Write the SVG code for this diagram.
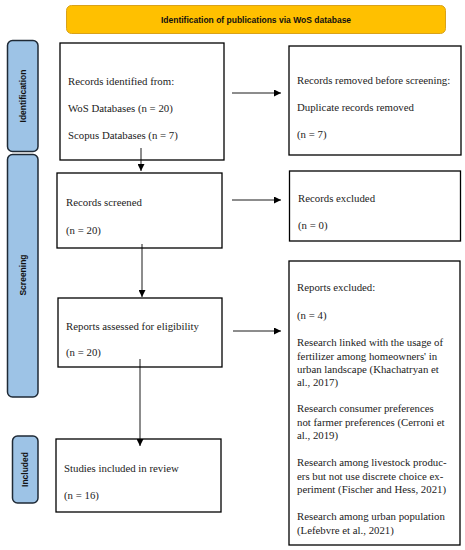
<svg xmlns="http://www.w3.org/2000/svg" width="465" height="550" viewBox="0 0 465 550">
<defs>
<marker id="ah" viewBox="0 0 8 8" refX="8" refY="4" markerWidth="7" markerHeight="7" markerUnits="userSpaceOnUse" orient="auto">
<path d="M0,0 L8,4 L0,8 Z" fill="#000"/>
</marker>
<style>
.box{fill:#fff;stroke:#000;stroke-width:1.3}
.side{fill:#9dc3e6;stroke:#1f2a36;stroke-width:1.5}
.t{font-family:"Liberation Serif","Times New Roman",serif;font-size:10.8px;fill:#222}
.s{font-family:"Liberation Sans",Arial,sans-serif;font-weight:bold;font-size:8.5px;fill:#111}
.c{stroke:#000;stroke-width:0.9;fill:none;marker-end:url(#ah)}
</style>
</defs>
<rect width="465" height="550" fill="#fff"/>
<g id="banner">
<rect x="66.5" y="5.5" width="379" height="28" rx="5" fill="#ffc000" stroke="#d9a21a" stroke-width="1"/>
<text class="s" x="256" y="22.5" text-anchor="middle">Identification of publications via WoS database</text>
</g>
<g id="side-identification">
<rect class="side" x="7.5" y="40.5" width="30.5" height="111" rx="5"/>
<text class="s" transform="translate(25.5,96) rotate(-90)" text-anchor="middle">Identification</text>
</g>
<g id="side-screening">
<rect class="side" x="7.5" y="154.5" width="30.5" height="242.5" rx="5"/>
<text class="s" transform="translate(25.5,275) rotate(-90)" text-anchor="middle">Screening</text>
</g>
<g id="side-included">
<rect class="side" x="12.5" y="436" width="25.5" height="67" rx="5"/>
<text class="s" transform="translate(28,469.5) rotate(-90)" text-anchor="middle">Included</text>
</g>
<g id="records-identified">
<rect class="box" x="60" y="43" width="164" height="117"/>
<text class="t" x="68" y="85">Records identified from:</text>
<text class="t" x="68" y="112">WoS Databases (n = 20)</text>
<text class="t" x="68" y="138.5">Scopus Databases (n = 7)</text>
</g>
<g id="records-removed">
<rect class="box" x="289" y="46" width="172" height="109"/>
<text class="t" x="297" y="84">Records removed before screening:</text>
<text class="t" x="297" y="111">Duplicate records removed</text>
<text class="t" x="297" y="138">(n = 7)</text>
</g>
<g id="records-screened">
<rect class="box" x="57" y="173" width="165" height="75"/>
<text class="t" x="66" y="206">Records screened</text>
<text class="t" x="66" y="234">(n = 20)</text>
</g>
<g id="records-excluded">
<rect class="box" x="289.5" y="171" width="171" height="70"/>
<text class="t" x="298" y="202">Records excluded</text>
<text class="t" x="298" y="229">(n = 0)</text>
</g>
<g id="reports-assessed">
<rect class="box" x="58" y="298" width="164" height="69"/>
<text class="t" x="66" y="330">Reports assessed for eligibility</text>
<text class="t" x="66" y="356">(n = 20)</text>
</g>
<g id="reports-excluded">
<rect class="box" x="289" y="261" width="171" height="284"/>
<text class="t" x="297" y="291">Reports excluded:</text>
<text class="t" x="297" y="319">(n = 4)</text>
<text class="t" x="297" y="346">Research linked with the usage of</text>
<text class="t" x="297" y="359.5">fertilizer among homeowners' in</text>
<text class="t" x="297" y="372.5">urban landscape (Khachatryan et</text>
<text class="t" x="297" y="386">al., 2017)</text>
<text class="t" x="297" y="412">Research consumer preferences</text>
<text class="t" x="297" y="425.5">not farmer preferences (Cerroni et</text>
<text class="t" x="297" y="439">al., 2019)</text>
<text class="t" x="297" y="466">Research among livestock produc-</text>
<text class="t" x="297" y="479.5">ers but not use discrete choice ex-</text>
<text class="t" x="297" y="493">periment (Fischer and Hess, 2021)</text>
<text class="t" x="297" y="520">Research among urban population</text>
<text class="t" x="297" y="533.5">(Lefebvre et al., 2021)</text>
</g>
<g id="studies-included">
<rect class="box" x="56" y="439" width="165" height="73"/>
<text class="t" x="64" y="472">Studies included in review</text>
<text class="t" x="64" y="499">(n = 16)</text>
</g>
<g id="connectors">
<line class="c" x1="232" y1="93" x2="281" y2="93"/>
<line class="c" x1="141" y1="148" x2="141" y2="171"/>
<line class="c" x1="232" y1="200" x2="281" y2="200"/>
<line class="c" x1="142" y1="244" x2="142" y2="297"/>
<line class="c" x1="233" y1="331" x2="281" y2="331"/>
<line class="c" x1="140" y1="359" x2="140" y2="446"/>
</g>
</svg>
